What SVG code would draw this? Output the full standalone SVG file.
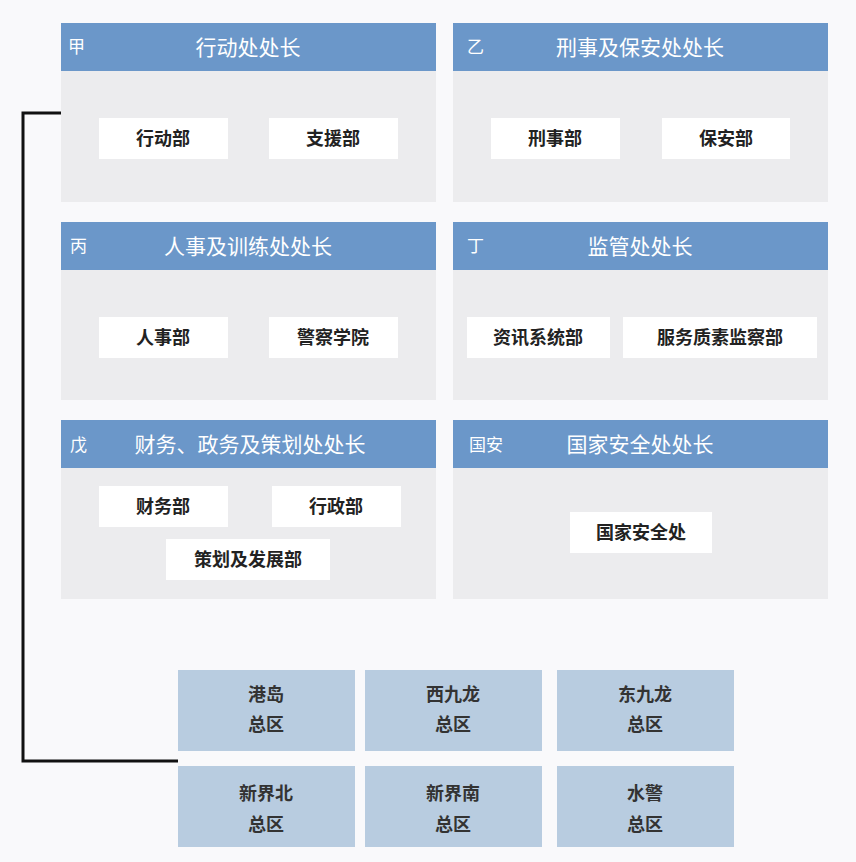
<svg xmlns="http://www.w3.org/2000/svg" width="856" height="862" viewBox="0 0 856 862">
<style>
.hd{fill:#6b97c9}.bd{fill:#ececee}.wb{fill:#fff}.rg{fill:#b8cce0}
text{font-family:"Noto Sans CJK SC","Noto Sans",sans-serif}
.ht{fill:#fff;font-size:21px;text-anchor:middle}
.hs{fill:#fff;font-size:17px}
.it{fill:#222;font-size:18px;text-anchor:middle;font-weight:bold}
.rt{fill:#333;font-size:18px;text-anchor:middle;font-weight:bold}
</style>
<rect width="856" height="862" fill="#f9f9fb"/>
<g id="connectors"><polyline points="61,113 23,113 23,761 178,761" fill="none" stroke="#111" stroke-width="3"/></g>
<g id="p1"><rect class="bd" x="61" y="23" width="375" height="179"/><rect class="hd" x="61" y="23" width="375" height="48"/>
<text class="hs" x="68" y="53">甲</text><text class="ht" x="248" y="55">行动处处长</text>
<rect class="wb" x="99" y="118" width="129" height="41"/><text class="it" x="163" y="145">行动部</text>
<rect class="wb" x="269" y="118" width="129" height="41"/><text class="it" x="333" y="145">支援部</text></g>
<g id="p2"><rect class="bd" x="453" y="23" width="375" height="179"/><rect class="hd" x="453" y="23" width="375" height="48"/>
<text class="hs" x="467" y="53">乙</text><text class="ht" x="640" y="55">刑事及保安处处长</text>
<rect class="wb" x="491" y="118" width="129" height="41"/><text class="it" x="555" y="145">刑事部</text>
<rect class="wb" x="662" y="118" width="128" height="41"/><text class="it" x="726" y="145">保安部</text></g>
<g id="p3"><rect class="bd" x="61" y="222" width="375" height="178"/><rect class="hd" x="61" y="222" width="375" height="48"/>
<text class="hs" x="70" y="252">丙</text><text class="ht" x="248" y="254">人事及训练处处长</text>
<rect class="wb" x="99" y="317" width="129" height="41"/><text class="it" x="163" y="344">人事部</text>
<rect class="wb" x="269" y="317" width="129" height="41"/><text class="it" x="333" y="344">警察学院</text></g>
<g id="p4"><rect class="bd" x="453" y="222" width="375" height="178"/><rect class="hd" x="453" y="222" width="375" height="48"/>
<text class="hs" x="467" y="252">丁</text><text class="ht" x="640" y="254">监管处处长</text>
<rect class="wb" x="467" y="317" width="143" height="41"/><text class="it" x="538" y="344">资讯系统部</text>
<rect class="wb" x="623" y="317" width="194" height="41"/><text class="it" x="720" y="344">服务质素监察部</text></g>
<g id="p5"><rect class="bd" x="61" y="420" width="375" height="179"/><rect class="hd" x="61" y="420" width="375" height="48"/>
<text class="hs" x="70" y="451">戊</text><text class="ht" x="250" y="452">财务、政务及策划处处长</text>
<rect class="wb" x="99" y="486" width="129" height="41"/><text class="it" x="163" y="513">财务部</text>
<rect class="wb" x="272" y="486" width="129" height="41"/><text class="it" x="336" y="513">行政部</text>
<rect class="wb" x="166" y="539" width="164" height="41"/><text class="it" x="248" y="566">策划及发展部</text></g>
<g id="p6"><rect class="bd" x="453" y="420" width="375" height="179"/><rect class="hd" x="453" y="420" width="375" height="48"/>
<text class="hs" x="469" y="451">国安</text><text class="ht" x="640" y="452">国家安全处处长</text>
<rect class="wb" x="570" y="512" width="142" height="41"/><text class="it" x="641" y="539">国家安全处</text></g>
<g id="r1"><rect class="rg" x="178" y="670" width="177" height="81"/><text class="rt" x="266" y="701">港岛</text><text class="rt" x="266" y="731">总区</text></g>
<g id="r2"><rect class="rg" x="365" y="670" width="177" height="81"/><text class="rt" x="453" y="701">西九龙</text><text class="rt" x="453" y="731">总区</text></g>
<g id="r3"><rect class="rg" x="557" y="670" width="177" height="81"/><text class="rt" x="645" y="701">东九龙</text><text class="rt" x="645" y="731">总区</text></g>
<g id="r4"><rect class="rg" x="178" y="766" width="177" height="81"/><text class="rt" x="266" y="800">新界北</text><text class="rt" x="266" y="831">总区</text></g>
<g id="r5"><rect class="rg" x="365" y="766" width="177" height="81"/><text class="rt" x="453" y="800">新界南</text><text class="rt" x="453" y="831">总区</text></g>
<g id="r6"><rect class="rg" x="557" y="766" width="177" height="81"/><text class="rt" x="645" y="800">水警</text><text class="rt" x="645" y="831">总区</text></g>
</svg>
